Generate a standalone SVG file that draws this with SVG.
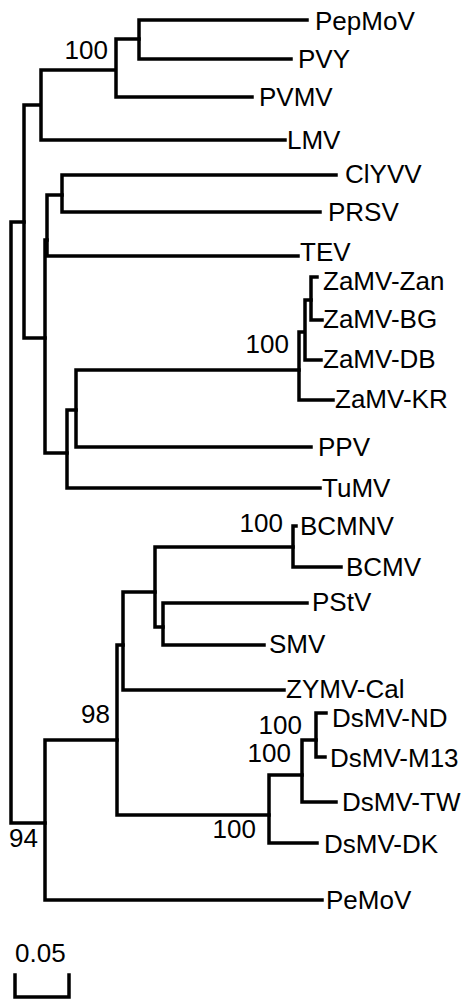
<svg xmlns="http://www.w3.org/2000/svg" width="468" height="1001" viewBox="0 0 468 1001">
<style>
.b{fill:none;stroke:#000;stroke-width:3.5;stroke-linejoin:miter;stroke-linecap:square}
text{font-family:"Liberation Sans",Arial,sans-serif;font-size:26px;fill:#000}
.s{text-anchor:end}
</style>
<rect width="468" height="1001" fill="#fff"/>
<g id="connectors" class="b">
<path d="M24,222 H11 V823 H45"/>
<path d="M40,105 H24 V338 H45"/>
<path d="M115,70 H41 V140 H285"/>
<path d="M139,39 H116 V97 H252"/>
<path d="M307,20 H139 V59 H291"/>
<path d="M47,240 H45 V453 H67"/>
<path d="M62,195 H47 V256 H298"/>
<path d="M336,175 H62 V212 H320"/>
<path d="M76,410 H67 V488 H320"/>
<path d="M299,370 H76 V447 H311"/>
<path d="M304,332 H299 V400 H333"/>
<path d="M311,300 H305 V360 H321"/>
<path d="M317,277 H311 V320 H322"/>
<path d="M117,740 H45 V900 H322"/>
<path d="M123,645 H117 V815 H269"/>
<path d="M155,592 H123 V690 H284"/>
<path d="M293,547 H155 V627 H163"/>
<path d="M296,526 H293 V567 H341"/>
<path d="M307,603 H163 V645 H264"/>
<path d="M302,775 H269 V843 H317"/>
<path d="M316,740 H302 V802 H336"/>
<path d="M326,713 H316 V757 H325"/>
<path d="M15,975 V997 H69 V975"/>
</g>
<g id="n-PepMoV"><text x="315" y="30">PepMoV</text></g>
<g id="n-PVY"><text x="298" y="68">PVY</text></g>
<g id="n-PVMV"><text x="259" y="106">PVMV</text></g>
<g id="n-LMV"><text x="287" y="149">LMV</text></g>
<g id="n-ClYVV"><text x="345" y="183">ClYVV</text></g>
<g id="n-PRSV"><text x="328" y="221">PRSV</text></g>
<g id="n-TEV"><text x="300" y="261">TEV</text></g>
<g id="n-ZaMV-Zan"><text x="323" y="290">ZaMV-Zan</text></g>
<g id="n-ZaMV-BG"><text x="323" y="328">ZaMV-BG</text></g>
<g id="n-ZaMV-DB"><text x="323" y="368">ZaMV-DB</text></g>
<g id="n-ZaMV-KR"><text x="335" y="408">ZaMV-KR</text></g>
<g id="n-PPV"><text x="318" y="456">PPV</text></g>
<g id="n-TuMV"><text x="322" y="497">TuMV</text></g>
<g id="n-BCMNV"><text x="300" y="535">BCMNV</text></g>
<g id="n-BCMV"><text x="346" y="576">BCMV</text></g>
<g id="n-PStV"><text x="312" y="611">PStV</text></g>
<g id="n-SMV"><text x="269" y="653">SMV</text></g>
<g id="n-ZYMV-Cal"><text x="286" y="698">ZYMV-Cal</text></g>
<g id="n-DsMV-ND"><text x="332" y="727">DsMV-ND</text></g>
<g id="n-DsMV-M13"><text x="330" y="767">DsMV-M13</text></g>
<g id="n-DsMV-TW"><text x="342" y="811">DsMV-TW</text></g>
<g id="n-DsMV-DK"><text x="324" y="853">DsMV-DK</text></g>
<g id="n-PeMoV"><text x="326" y="909">PeMoV</text></g>
<g id="bootstrap">
<text class="s" x="108" y="59">100</text>
<text class="s" x="289" y="353">100</text>
<text class="s" x="283" y="532">100</text>
<text class="s" x="110" y="723">98</text>
<text class="s" x="302" y="734">100</text>
<text class="s" x="291" y="762">100</text>
<text class="s" x="256" y="838">100</text>
<text class="s" x="38" y="847">94</text>
</g>
<g id="scale"><text x="15" y="962">0.05</text></g>
</svg>
